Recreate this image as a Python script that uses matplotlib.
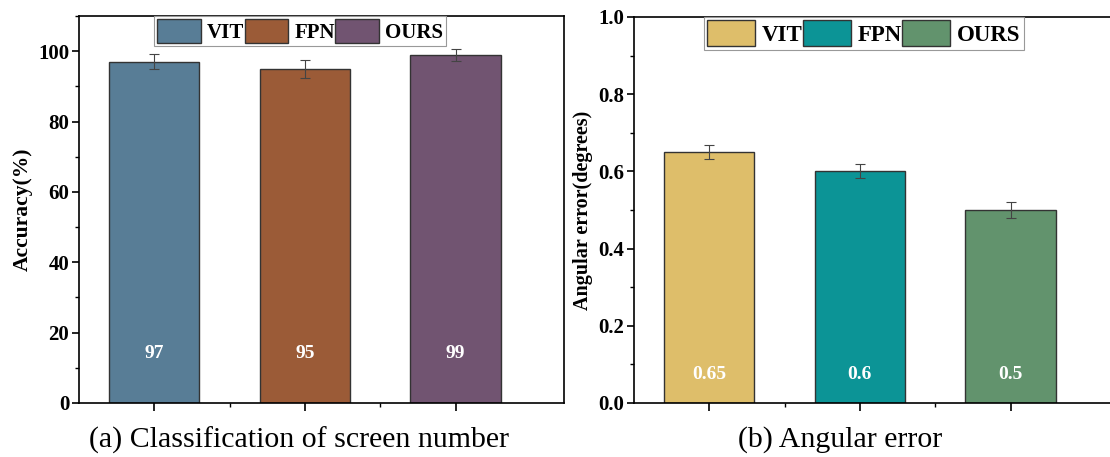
import matplotlib
matplotlib.use("Agg")
import matplotlib.pyplot as plt
from matplotlib.ticker import MultipleLocator, FixedLocator, NullFormatter, FormatStrFormatter

plt.rcParams['font.family'] = ['Liberation Serif', 'DejaVu Serif']

methods = ["VIT", "FPN", "OURS"]
acc_values = [97, 95, 99]
acc_errors = [2.2, 2.5, 1.7]
acc_labels = ["97", "95", "99"]
acc_colors = ["#587D96", "#9B5B37", "#715471"]

ang_values = [0.65, 0.60, 0.50]
ang_errors = [0.019, 0.018, 0.021]
ang_labels = ["0.65", "0.6", "0.5"]
ang_colors = ["#DEBE6A", "#0C9496", "#62936D"]

fig = plt.figure(figsize=(11.1, 4.57), dpi=100)
ax1 = fig.add_axes([79/1110, 54/457, 485/1110, 387/457])
ax2 = fig.add_axes([634/1110, 54/457, 485/1110, 386/457])

def draw(ax, values, errors, labels, colors, ylim, major, minor, ylabel, ylsize, ylx,
         label_y, legx, legsize, fmt):
    x = list(range(1, len(values) + 1))
    bars = ax.bar(x, values, width=0.6, color=colors, edgecolor="#333333", linewidth=1.0,
                  zorder=2)
    ax.errorbar(x, values, yerr=errors, fmt="none", ecolor="#444444", elinewidth=0.8,
                capsize=3.5, capthick=0.8, zorder=3)
    for xi, lab in zip(x, labels):
        ax.text(xi, label_y, lab, color="white", fontsize=14, fontweight="bold",
                ha="center", va="center", zorder=4)
    ax.set_xlim(0.5, 3.72)
    ax.set_ylim(*ylim)
    ax.yaxis.set_major_locator(MultipleLocator(major))
    ax.yaxis.set_minor_locator(MultipleLocator(minor))
    ax.yaxis.set_major_formatter(fmt)
    ax.set_xticks(x)
    ax.set_xticklabels([])
    ax.xaxis.set_minor_locator(FixedLocator([1.5, 2.5]))
    ax.xaxis.set_minor_formatter(NullFormatter())
    ax.tick_params(axis="both", which="major", direction="out", length=5, width=1.2,
                   labelsize=15, pad=2)
    ax.tick_params(axis="both", which="minor", direction="out", length=3, width=1.0)
    ax.tick_params(axis="x", which="major", length=6)
    for lab in ax.get_yticklabels():
        lab.set_fontweight("bold")
    for s in ax.spines.values():
        s.set_linewidth(1.2)
    ax.set_ylabel(ylabel, fontsize=ylsize, fontweight="bold")
    ax.yaxis.set_label_coords(ylx, 0.5)
    leg = ax.legend(bars, methods, loc="upper center", bbox_to_anchor=(legx, 1.0), ncol=3,
                    frameon=True, fancybox=False, edgecolor="#999999", framealpha=1,
                    prop={"weight": "bold", "size": legsize}, handlelength=2.1,
                    handleheight=1.35, handletextpad=0.3, columnspacing=0.0,
                    borderpad=0.15, borderaxespad=0.0)
    leg.get_frame().set_linewidth(0.8)

draw(ax1, acc_values, acc_errors, acc_labels, acc_colors, (0, 110), 20, 10,
     "Accuracy(%)", 15.5, -0.095, 14, 0.456, 15, FormatStrFormatter("%d"))
draw(ax2, ang_values, ang_errors, ang_labels, ang_colors, (0, 1.0), 0.2, 0.1,
     "Angular error(degrees)", 14.5, -0.085, 0.075, 0.474, 16.5, FormatStrFormatter("%.1f"))

fig.text(299/1110, 1 - 440/457, "(a) Classification of screen number", fontsize=21.5,
         ha="center", va="center")
fig.text(840/1110, 1 - 440/457, "(b) Angular error", fontsize=21.5,
         ha="center", va="center")

fig.savefig("out.png", dpi=100)
